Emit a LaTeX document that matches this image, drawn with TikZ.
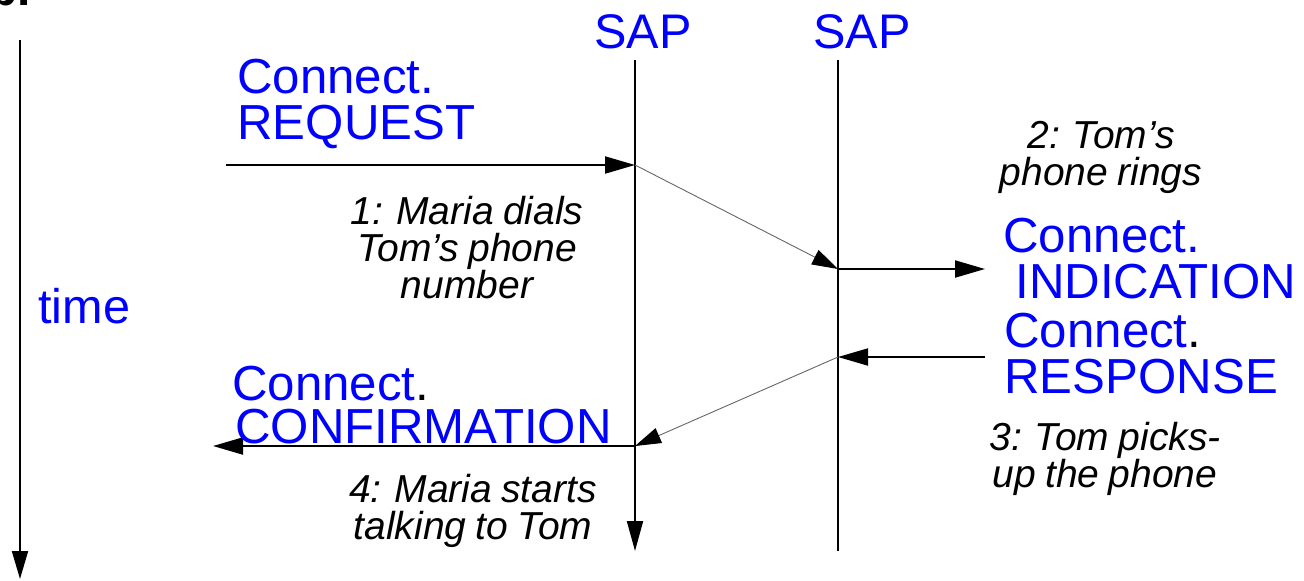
\documentclass[tikz,border=0pt]{standalone}
\usepackage{fontspec}
\setmainfont{Liberation Sans}
\usetikzlibrary{arrows.meta}
\definecolor{sapblue}{RGB}{0,0,255}
\newcommand\annotfont{\fontsize{19.5}{18.5}\selectfont\itshape\spaceskip=0.24em plus 0.1em\relax}
\begin{document}
\begin{tikzpicture}[x=0.5pt,y=-0.5pt,
  prim/.style={font=\fontsize{24.6}{23}\selectfont, text=sapblue, inner sep=0pt, align=left, anchor=north west},
  sap/.style={font=\fontsize{24.3}{23}\selectfont, text=sapblue, inner sep=0pt, anchor=base},
  note/.style={font=\annotfont, inner sep=0pt, align=center, anchor=north},
  lifeline/.style={line width=1pt},
  axis/.style={line width=1pt, -{Triangle[length=14pt,width=8pt]}},
  msg/.style={line width=1pt, -{Triangle[length=15pt,width=8.5pt]}},
  hop/.style={line width=0.45pt, draw=black!60, -{Triangle[length=13pt,width=8pt,color=black]}},
]
\useasboundingbox (0,0) rectangle (1304,580);

% figure letter, partly above the page edge
\node[font=\fontsize{24}{24}\selectfont\bfseries, anchor=base west, inner sep=0pt] (figlabel) at (-12,5) {b.};

% time axis
\coordinate (t0) at (20,40);
\coordinate (t1) at (20,579);
\draw[axis] (t0) -- (t1);
\node[sap, anchor=base west] (time) at (38,323) {time};

% service access points
\node[sap] (sapA) at (643,48) {SAP};
\node[sap] (sapB) at (862,48) {SAP};
\coordinate (aTop) at (635,60);
\coordinate (aBot) at (635,551);
\coordinate (bTop) at (838,60);
\coordinate (bBot) at (838,551);
\draw[lifeline, -{Triangle[length=15pt,width=8pt]}] (aTop) -- (aBot);
\draw[lifeline] (bTop) -- (bBot);

% message points
\coordinate (reqStart) at (226,165);
\coordinate (a1) at (635,165);
\coordinate (b1) at (838,269);
\coordinate (indEnd) at (985,269);
\coordinate (respStart) at (985,357);
\coordinate (b2) at (838,357);
\coordinate (a2) at (635,446);
\coordinate (confEnd) at (213,446);

\draw[msg] (reqStart) -- (a1);
\draw[hop] (a1) -- (b1);
\draw[msg] (b1) -- (indEnd);
\draw[msg] (respStart) -- (b2);
\draw[hop] (b2) -- (a2);
\draw[msg] (a2) -- (confEnd);

% primitive names
\node[prim] (req) at (237,59) {Connect.\\REQUEST};
\node[prim] (ind) at (1003,218) {Connect.\\\hspace*{6pt}INDICATION};
\node[prim] (resp) at (1004,313) {Connect{\color{black}.}\\RESPONSE};
\node[prim, font=\fontsize{24.6}{21.5}\selectfont] (conf) at (232,366) {Connect{\color{black}.}\\\hspace*{1.5pt}CONFIRMATION};

% annotations
\node[note] (n1) at (467,196) {1: Maria dials\\Tom’s phone\\number};
\node[note] (n2) at (1101,121) {2: Tom’s\\phone rings};
\node[note] (n3) at (1105,422) {3: Tom picks-\\up the phone};
\node[note] (n4) at (473,474) {4: Maria starts\\talking to Tom};
\end{tikzpicture}
\end{document}
